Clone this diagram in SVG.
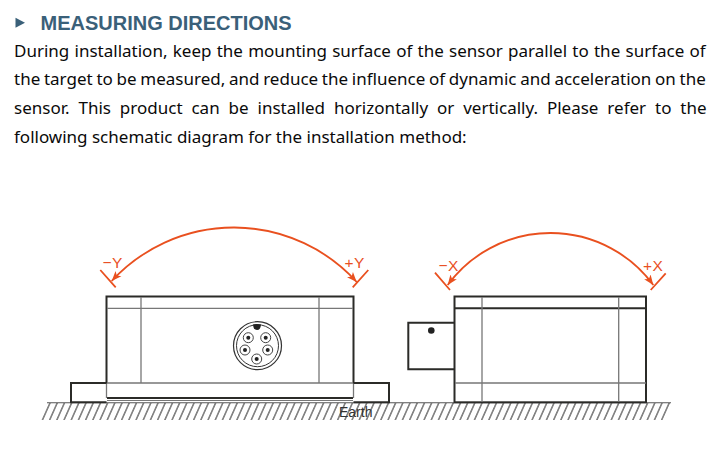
<svg xmlns="http://www.w3.org/2000/svg" width="718" height="452" viewBox="0 0 718 452">
<style>
.h{font:bold 20px "Liberation Sans",Arial,sans-serif;fill:#3a6079}
.t{font:17px "Noto Sans","Open Sans",sans-serif;fill:#0a0a0a}
.k{fill:none;stroke:#2b2b28;stroke-width:2}
.n{fill:none;stroke:#777;stroke-width:1.3}
.o{fill:none;stroke:#e9501f;stroke-width:1.8}
.l{font:15.500px "Liberation Sans",Arial,sans-serif;fill:#e9501f;letter-spacing:.5px}
.e{font:14px "Liberation Sans",Arial,sans-serif;fill:#333}
</style>
<defs>
<marker id="a" markerUnits="userSpaceOnUse" markerWidth="13" markerHeight="12" refX="10" refY="5" orient="auto-start-reverse"><path d="M10 5L0 1L2.500 5L0 9Z" fill="#e9501f"/></marker>
<pattern id="hatch" patternUnits="userSpaceOnUse" width="7.2" height="20" patternTransform="translate(3.200 403) skewX(-24)"><path d="M3.600 0V20" stroke="#333" stroke-width="1.1"/></pattern>
</defs>
<g id="heading"><path d="M15.500 17.800L25 22.800L15.500 27.800Z" fill="#3a6079"/><text class="h" x="40.500" y="30">MEASURING DIRECTIONS</text></g>
<g id="body">
<text class="t" x="14" y="57" word-spacing=".85">During installation, keep the mounting surface of the sensor parallel to the surface of</text>
<text class="t" x="14" y="85" word-spacing="-.7">the target to be measured, and reduce the influence of dynamic and acceleration on the</text>
<text class="t" x="14" y="114" word-spacing="4.500">sensor. This product can be installed horizontally or vertically. Please refer to the</text>
<text class="t" x="14" y="143">following schematic diagram for the installation method:</text>
</g>
<g id="ground"><polygon points="48,403 671,403 663,420 40,420" fill="url(#hatch)"/><path d="M47 402.800H671" stroke="#555" stroke-width="1.100"/><text class="e" x="339" y="417">Earth</text></g>
<g id="sensor-y">
<path class="k" d="M106.500 383V296.500H353.500V383M107 398H353"/>
<path class="n" d="M107 308.300H353M141 297V383M319 297V383M107 383H353M106.500 383V398M353.500 383V398"/>
<path d="M107 400.500H353" stroke="#777"/>
<path class="k" d="M106.500 383H71V402.300H106.500M353.500 383H389V402.300H353.500"/>
</g>
<g id="connector">
<circle cx="257.500" cy="345.700" r="24" fill="none" stroke="#333" stroke-width="1.200"/>
<circle cx="257.500" cy="345.700" r="21" fill="none" stroke="#333"/>
<path d="M253 324.500Q257 323.500 261 324.500Q260.500 330 257 330Q253.500 330 253 324.500Z" fill="#222"/>
<g fill="none" stroke="#444"><circle cx="248.300" cy="337.700" r="5"/><circle cx="265.700" cy="337.700" r="5"/><circle cx="245" cy="350" r="5"/><circle cx="267.700" cy="350" r="5"/><circle cx="256.700" cy="359" r="5"/></g>
<g fill="#222"><circle cx="248.300" cy="337.700" r="2"/><circle cx="265.700" cy="337.700" r="2"/><circle cx="245" cy="350" r="2"/><circle cx="267.700" cy="350" r="2"/><circle cx="256.700" cy="359" r="2"/></g>
</g>
<g id="sensor-x">
<rect class="k" x="454.500" y="296.500" width="191.500" height="105.800"/>
<path class="k" d="M455 308.300H646"/>
<path class="n" d="M455 383H646M482 297V402M618.700 297V402"/>
<path class="k" d="M454.500 322.700H408.300V369.300H454.500"/>
<circle cx="431.300" cy="330.500" r="3.300" fill="#222"/>
</g>
<g id="connectors">
<path class="o" d="M111.700 281A166 166 0 0 1 356.700 282" marker-start="url(#a)" marker-end="url(#a)"/>
<path class="o" d="M447.700 285A127.600 127.600 0 0 1 653.300 285" marker-start="url(#a)" marker-end="url(#a)"/>
<path class="o" d="M100.300 270L115.700 287.300M368.300 270L352.700 287.300M435 272.700L450 290M665.700 273.300L650.700 290"/>
</g>
<g id="labels">
<text class="l" x="102.500" y="268">−Y</text><text class="l" x="344.500" y="268">+Y</text>
<text class="l" x="438.500" y="271">−X</text><text class="l" x="643" y="271">+X</text>
</g>
</svg>
